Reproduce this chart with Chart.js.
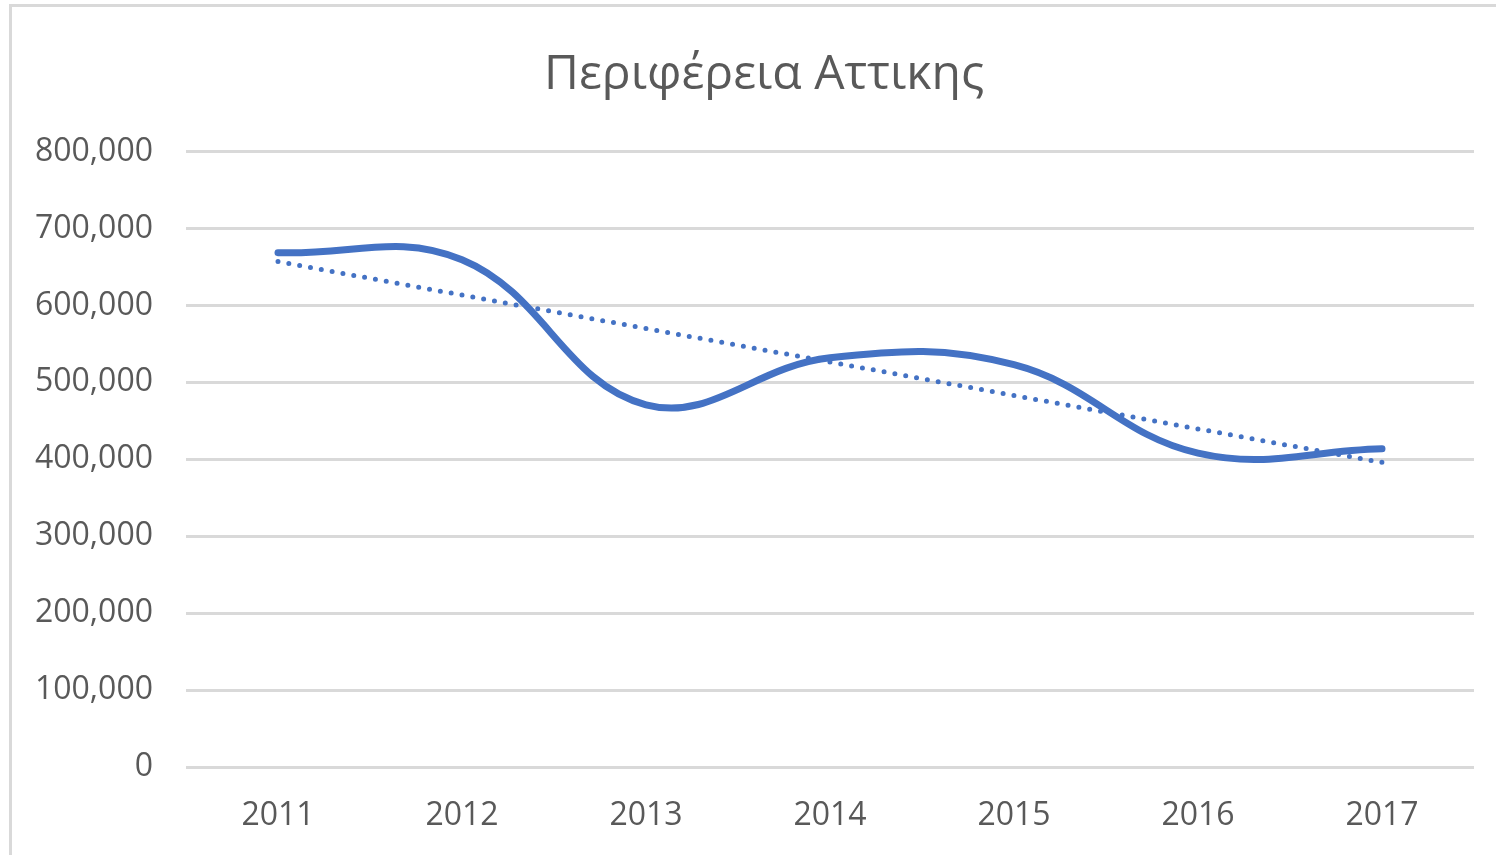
<!DOCTYPE html>
<html>
<head>
<meta charset="utf-8">
<script src="https://cdn.jsdelivr.net/npm/chart.js@4/dist/chart.umd.min.js"></script>
<style>
  html, body { margin: 0; padding: 0; background: #fff; overflow: hidden; }
  #wrap { position: relative; width: 1496px; height: 855px; }
  #frame { position: absolute; left: 9px; top: 4px; width: 1600px; height: 900px;
           border-left: 3px solid #d9d9d9; border-top: 3px solid #d9d9d9; box-sizing: border-box; }
  canvas { position: absolute; left: 0; top: 0; }
</style>
</head>
<body>
<div id="wrap">
  <div id="frame"></div>
  <canvas id="c" width="1496" height="855"></canvas>
</div>
<script>
const chartTitle = "Περιφέρεια Αττικης";
const years = ["2011", "2012", "2013", "2014", "2015", "2016", "2017"];
const values = [668600, 659500, 470900, 532000, 523000, 408000, 413700];
// linear trendline endpoints (2011 and 2017)
const trendValues = [657000, null, null, null, null, null, 396000];
const yTicks = [0, 100000, 200000, 300000, 400000, 500000, 600000, 700000, 800000];

const textColor = "#595959";
const gridColor = "#d9d9d9";
const lineColor = "#4472C4";
const fontFamily = "'Open Sans', 'Noto Sans', sans-serif";

// centre the title over the whole chart frame rather than the padded area
const titleCentre = {
  id: "titleCentre",
  afterLayout(chart) {
    const t = chart.titleBlock;
    if (t) { t.left = 54; t.right = chart.chartArea.right; }
  }
};

new Chart(document.getElementById("c"), {
  type: "line",
  plugins: [titleCentre],
  data: {
    labels: years,
    datasets: [
      {
        label: "Αττική",
        data: values,
        borderColor: lineColor,
        borderWidth: 7,
        borderCapStyle: "round",
        tension: 0.4,
        pointRadius: 0,
        fill: false,
        order: 1
      },
      {
        label: "Τάση",
        data: trendValues,
        spanGaps: true,
        borderColor: lineColor,
        borderWidth: 5,
        borderCapStyle: "round",
        borderDash: [0, 11],
        tension: 0,
        pointRadius: 0,
        fill: false,
        order: 2
      }
    ]
  },
  options: {
    responsive: false,
    animation: false,
    layout: { padding: { left: 0, right: 22, top: 0, bottom: 21 } },
    plugins: {
      legend: { display: false },
      tooltip: { enabled: false },
      title: {
        display: true,
        text: chartTitle,
        color: textColor,
        font: { family: fontFamily, size: 48, weight: "normal", lineHeight: 1.2 },
        padding: { top: 47, bottom: 47 }
      }
    },
    scales: {
      x: {
        offset: true,
        grid: { display: false, drawTicks: false },
        border: { display: false },
        afterFit: (scale) => { scale.height = 67; },
        ticks: {
          color: textColor,
          padding: 30,
          maxRotation: 0,
          font: { family: fontFamily, size: 32 }
        }
      },
      y: {
        min: 0,
        max: 800000,
        afterBuildTicks: (scale) => { scale.ticks = yTicks.map(v => ({ value: v })); },
        afterFit: (scale) => { scale.width = 186; },
        grid: { color: gridColor, lineWidth: 3, drawTicks: false },
        border: { display: false },
        ticks: {
          color: textColor,
          padding: 33,
          font: { family: fontFamily, size: 32 },
          callback: (v) => v.toLocaleString("en-US")
        }
      }
    }
  }
});
</script>
</body>
</html>
